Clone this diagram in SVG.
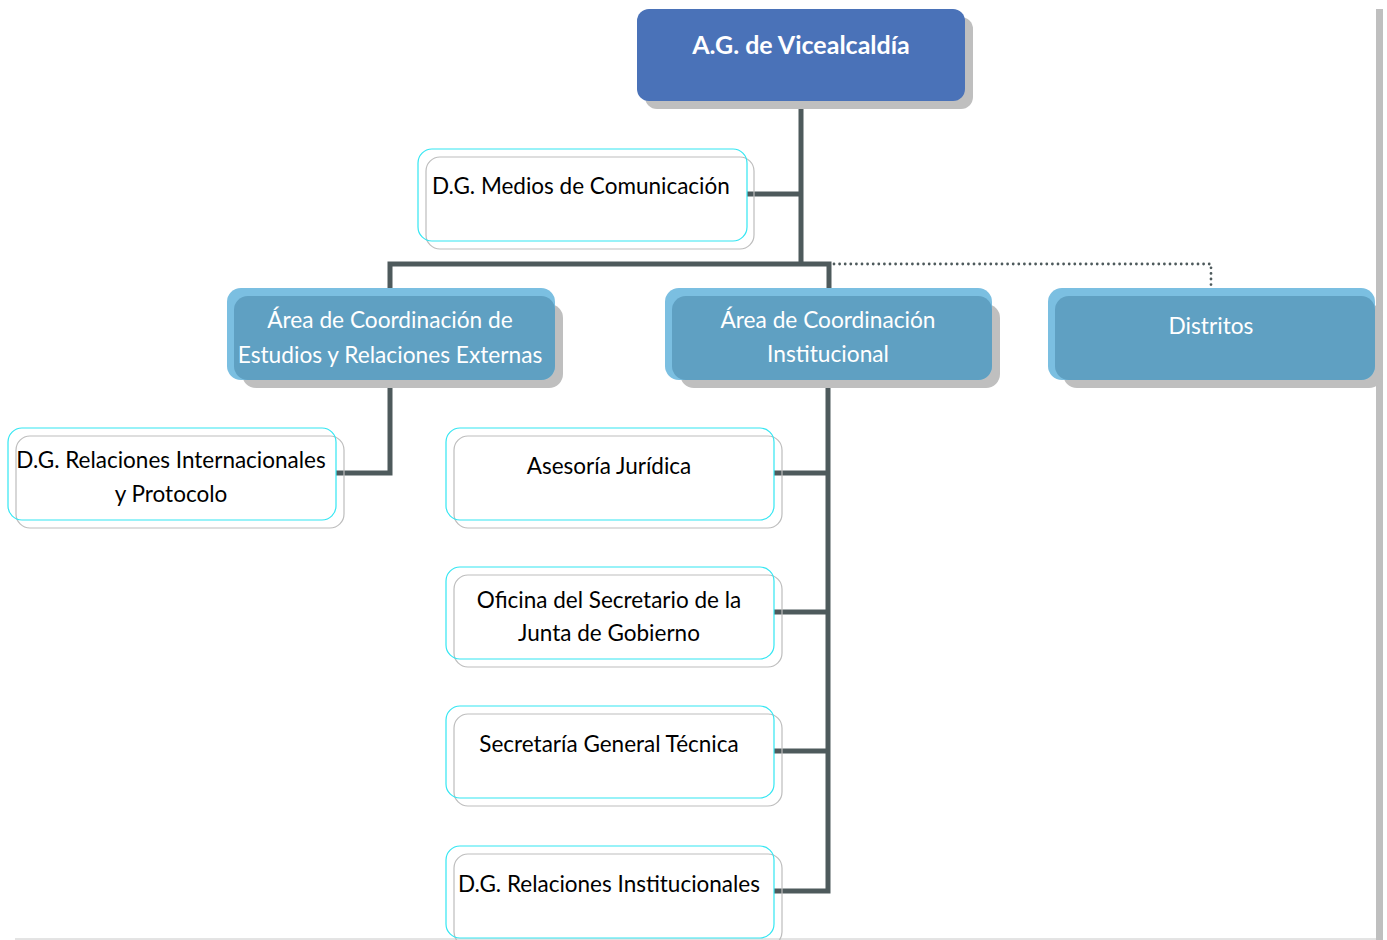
<svg xmlns="http://www.w3.org/2000/svg" width="1387" height="940" viewBox="0 0 1387 940">
<style>
.t{font-family:Lato,"Open Sans","DejaVu Sans",sans-serif;font-size:22.5px;fill:#000}
.w{font-family:Lato,"Open Sans","DejaVu Sans",sans-serif;font-size:22.7px;fill:#fff}
.b{font-family:Lato,"Open Sans","DejaVu Sans",sans-serif;font-size:25px;font-weight:bold;fill:#fff}
.cy{fill:none;stroke:#33E6F2;stroke-width:1.2}
.gr{fill:none;stroke:#BDBDBD;stroke-width:1.2}
.sh{fill:#BFBFBF}
.lt{fill:#7BBFE1}
.dk{fill:#5FA0C2}
.ln{fill:none;stroke:#4E5A5C;stroke-width:5}
.dot{fill:none;stroke:#4E5A5C;stroke-width:2.8;stroke-dasharray:0 5.6;stroke-linecap:round}
</style>
<rect width="1387" height="940" fill="#fff"/>
<rect x="1376" y="9" width="7" height="931" fill="#BFBFBF"/>
<line x1="15" y1="939" x2="1376" y2="939" stroke="#C8C8C8" stroke-width="1"/>
<g id="connectors">
<path class="ln" d="M801 101V264M747 194H801M390 290V264H829V290"/>
<path class="dot" d="M834 264H1211V288"/>
<path class="ln" d="M390 380V473H336"/>
<path class="ln" d="M828 380V891H774M828 473H774M828 612H774M828 751H774"/>
</g>
<g id="n-ag">
<rect x="645" y="17" width="328" height="92" rx="12" class="sh"/>
<rect x="637" y="9" width="328" height="92" rx="12" fill="#4A72B8"/>
<text x="801" y="54" text-anchor="middle" class="b">A.G. de Vicealcaldía</text>
</g>
<g id="n-medios">
<rect x="426" y="157" width="328" height="92" rx="14" class="gr"/>
<rect x="418" y="149" width="329" height="92" rx="14" class="cy"/>
<text x="432" y="194" class="t">D.G. Medios de Comunicación</text>
</g>
<g id="n-area-ext">
<rect x="242" y="304" width="321" height="84" rx="14" class="sh"/>
<rect x="227" y="288" width="328" height="92" rx="14" class="lt"/>
<rect x="234" y="296" width="321" height="84" rx="14" class="dk"/>
<text x="390" y="328" text-anchor="middle" class="w">Área de Coordinación de</text>
<text x="390" y="363" text-anchor="middle" class="w">Estudios y Relaciones Externas</text>
</g>
<g id="n-area-inst">
<rect x="680" y="304" width="320" height="84" rx="14" class="sh"/>
<rect x="665" y="288" width="327" height="92" rx="14" class="lt"/>
<rect x="672" y="296" width="320" height="84" rx="14" class="dk"/>
<text x="828" y="328" text-anchor="middle" class="w">Área de Coordinación</text>
<text x="828" y="362" text-anchor="middle" class="w">Institucional</text>
</g>
<g id="n-distritos">
<rect x="1063" y="304" width="320" height="84" rx="14" class="sh"/>
<rect x="1048" y="288" width="327" height="92" rx="14" class="lt"/>
<rect x="1055" y="296" width="320" height="84" rx="14" class="dk"/>
<text x="1211" y="334" text-anchor="middle" class="w">Distritos</text>
</g>
<g id="n-rel-int">
<rect x="16" y="436" width="328" height="92" rx="14" class="gr"/>
<rect x="8" y="428" width="328" height="92" rx="14" class="cy"/>
<text x="171" y="468" text-anchor="middle" class="t">D.G. Relaciones Internacionales</text>
<text x="171" y="502" text-anchor="middle" class="t">y Protocolo</text>
</g>
<g id="n-asesoria">
<rect x="454" y="436" width="328" height="92" rx="14" class="gr"/>
<rect x="446" y="428" width="328" height="92" rx="14" class="cy"/>
<text x="609" y="474" text-anchor="middle" class="t">Asesoría Jurídica</text>
</g>
<g id="n-oficina">
<rect x="454" y="575" width="328" height="92" rx="14" class="gr"/>
<rect x="446" y="567" width="328" height="92" rx="14" class="cy"/>
<text x="609" y="608" text-anchor="middle" class="t">Oficina del Secretario de la</text>
<text x="609" y="641" text-anchor="middle" class="t">Junta de Gobierno</text>
</g>
<g id="n-sgt">
<rect x="454" y="714" width="328" height="92" rx="14" class="gr"/>
<rect x="446" y="706" width="328" height="92" rx="14" class="cy"/>
<text x="609" y="752" text-anchor="middle" class="t">Secretaría General Técnica</text>
</g>
<g id="n-rel-inst">
<rect x="454" y="854" width="328" height="92" rx="14" class="gr"/>
<rect x="446" y="846" width="328" height="92" rx="14" class="cy"/>
<text x="609" y="892" text-anchor="middle" class="t">D.G. Relaciones Institucionales</text>
</g>
</svg>
